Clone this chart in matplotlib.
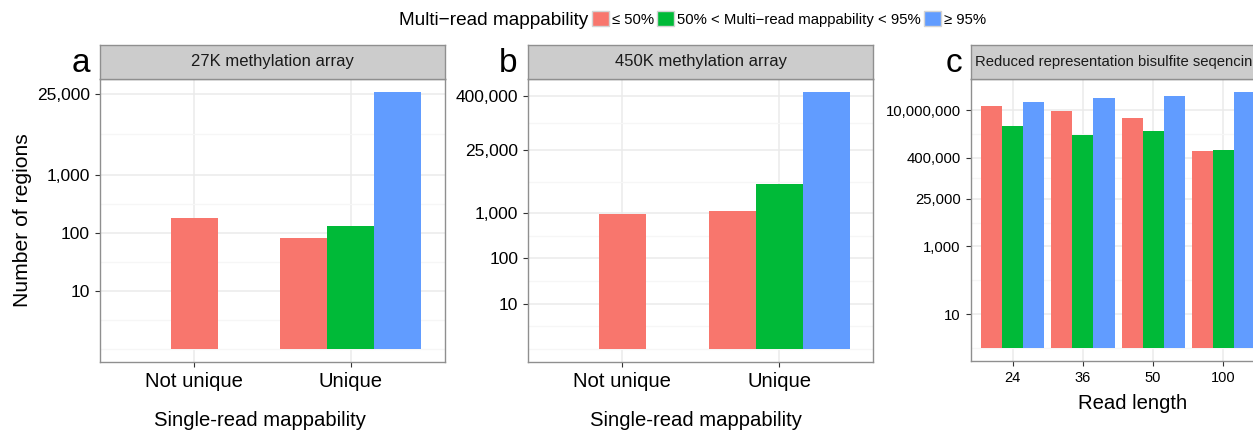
import numpy as np
import matplotlib
matplotlib.use("Agg")
import matplotlib.pyplot as plt
from matplotlib.patches import Rectangle
from matplotlib.ticker import FixedLocator, FuncFormatter, NullFormatter

plt.rcParams['font.family'] = ['Liberation Sans', 'DejaVu Sans']

W, H = 1253, 432

series = ["≤ 50%", "50% < Multi−read mappability < 95%", "≥ 95%"]
colors = ["#F8766D", "#00BA38", "#619CFF"]

# panel a: 27K methylation array
a_cats = ["Not unique", "Unique"]
a_le50 = [178, 82]
a_mid = [np.nan, 131]
a_ge95 = [np.nan, 26600]
a_ticks = [10, 100, 1000, 25000]

# panel b: 450K methylation array
b_cats = ["Not unique", "Unique"]
b_le50 = [965, 1120]
b_mid = [np.nan, 4430]
b_ge95 = [np.nan, 476000]
b_ticks = [10, 100, 1000, 25000, 400000]

# panel c: RRBS by read length
c_cats = ["24", "36", "50", "100"]
c_le50 = [13300000, 9500000, 6000000, 650000]
c_mid = [3500000, 1900000, 2500000, 690000]
c_ge95 = [17500000, 22800000, 26000000, 34000000]
c_ticks = [10, 1000, 25000, 400000, 10000000]

fig = plt.figure(figsize=(W / 100, H / 100), dpi=100)


def px_axes(l, t, r, b):
    return fig.add_axes([l / W, 1 - b / H, (r - l) / W, (b - t) / H])


def minor_breaks(ticks, lo, hi):
    # ggplot-style regular minor breaks in log space
    b = list(np.log10(ticks))
    bd = b[1] - b[0]
    if lo < b[0]:
        b = [b[0] - bd] + b
    if hi > b[-1]:
        b = b + [b[-1] + bd]
    out = []
    for p, q in zip(b[:-1], b[1:]):
        out += [p, (p + q) / 2]
    out.append(b[-1])
    return [10 ** m for m in out if lo <= m <= hi]


def panel(box, strip_box, cats, vals, ticks, title, letter, letter_x,
          xlab, xlab_x, xlab_y, tick_fs, xtick_fs, strip_fs):
    ax = px_axes(*box)
    x = np.arange(1, len(cats) + 1)
    for i, xc in enumerate(x):
        present = [k for k in range(3) if not np.isnan(vals[k][i])]
        n = len(present)
        for j, k in enumerate(present):
            off = (j - (n - 1) / 2) * 0.3
            ax.bar(xc + off, vals[k][i] - 1, bottom=1, width=0.3,
                   color=colors[k], linewidth=0)
    ax.set_yscale('log')
    top = np.nanmax(np.array(vals, dtype=float))
    L = np.log10(top)
    lo, hi = -0.05 * L, 1.05 * L
    ax.set_ylim(10 ** lo, 10 ** hi)
    ax.set_xlim(0.4, len(cats) + 0.6)
    ax.yaxis.set_major_locator(FixedLocator(ticks))
    ax.yaxis.set_major_formatter(FuncFormatter(lambda v, p: f"{int(round(v)):,}"))
    ax.yaxis.set_minor_locator(FixedLocator(minor_breaks(ticks, lo, hi)))
    ax.yaxis.set_minor_formatter(NullFormatter())
    ax.set_xticks(x)
    ax.set_xticklabels(cats)
    ax.grid(True, which='major', color='#EBEBEB', lw=1.1)
    ax.grid(True, which='minor', axis='y', color='#F6F6F6', lw=0.9)
    ax.set_axisbelow(True)
    ax.tick_params(which='minor', length=0)
    ax.tick_params(which='major', length=3.3, width=0.8, color='#333333', pad=4)
    ax.tick_params(axis='y', labelsize=tick_fs)
    ax.tick_params(axis='x', labelsize=xtick_fs)
    for s in ax.spines.values():
        s.set_color('#8F8F8F')
        s.set_linewidth(1.0)

    sax = px_axes(*strip_box)
    sax.set_facecolor('#CCCCCC')
    sax.set_xticks([])
    sax.set_yticks([])
    for s in sax.spines.values():
        s.set_color('#8F8F8F')
        s.set_linewidth(1.0)
    sax.text(0.5, 0.5, title, ha='center', va='center', fontsize=strip_fs,
             color='#1A1A1A', transform=sax.transAxes)

    fig.text(letter_x / W, 1 - 72.5 / H, letter, ha='center', va='baseline',
             fontsize=24)
    fig.text(xlab_x / W, 1 - xlab_y / H, xlab, ha='center', va='baseline',
             fontsize=14.6)
    return ax


panel((100, 79.3, 445, 361.7), (100, 44.5, 445, 79.3), a_cats,
      [a_le50, a_mid, a_ge95], a_ticks, "27K methylation array", "a", 80.5,
      "Single-read mappability", 259.5, 426, 12.5, 14.6, 12)
panel((528.3, 79.3, 873.3, 361.7), (528.3, 44.5, 873.3, 79.3), b_cats,
      [b_le50, b_mid, b_ge95], b_ticks, "450K methylation array", "b", 508,
      "Single-read mappability", 696, 426, 12.5, 14.6, 12)
panel((970.7, 79.3, 1265.4, 361.3), (970.7, 44.5, 1265.4, 79.3), c_cats,
      [c_le50, c_mid, c_ge95], c_ticks,
      "Reduced representation bisulfite seqencing", "c", 954,
      "Read length", 1133, 409, 10.7, 10.5, 10.7)

fig.text(23 / W, 1 - 220 / H, "Number of regions", rotation=90,
         ha='center', va='center', fontsize=15.2)

# legend across the top
fig.text(588 / W, 1 - 25 / H, "Multi−read mappability", ha='right',
         va='baseline', fontsize=13.7)
handles = [Rectangle((0, 0), 1, 1, facecolor=c, edgecolor='#D4D4D4', lw=1)
           for c in colors]
fig.legend(handles, series, loc='center left', bbox_to_anchor=(592 / W, 1 - 19 / H),
           ncol=3, frameon=False, fontsize=10.7, handlelength=1.15,
           handleheight=1.15, handletextpad=0.2, columnspacing=0.2,
           borderpad=0, borderaxespad=0)

fig.savefig("out.png", dpi=100)
